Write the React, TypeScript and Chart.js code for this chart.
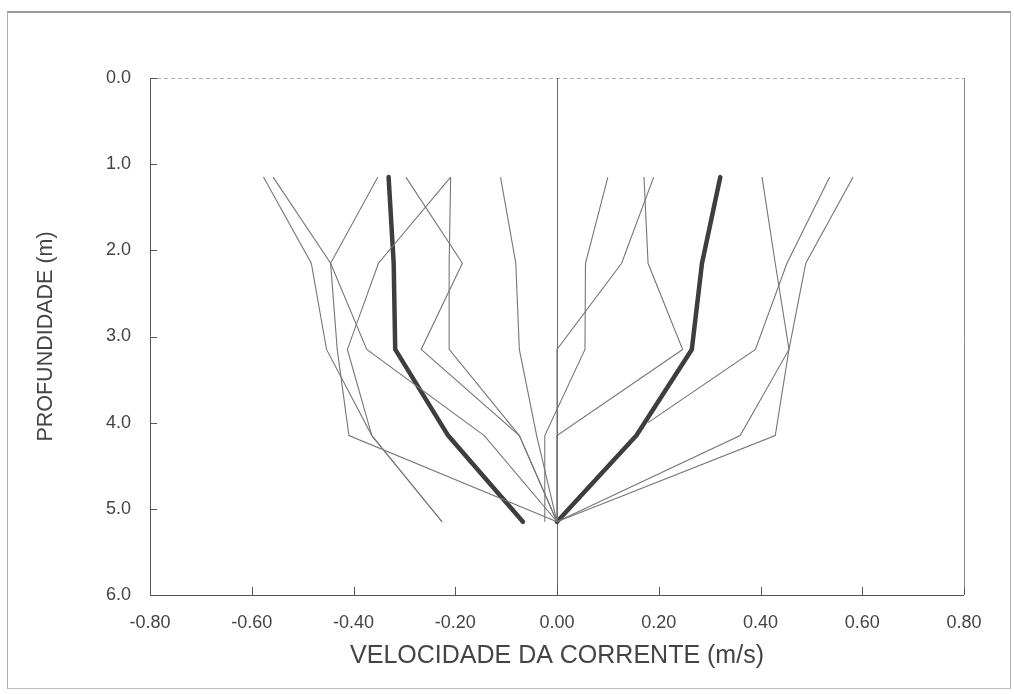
import React, { useEffect, useRef } from "react";
import { Chart, registerables } from "chart.js";

Chart.register(...registerables);

// Depth levels (m)
const DEPTHS = [1.15, 2.15, 3.15, 4.15, 5.15];
const DEPTHS_SHORT = [1.15, 2.15, 3.15, 4.0];

// Axis ticks
const X_TICKS = [-0.8, -0.6, -0.4, -0.2, 0, 0.2, 0.4, 0.6, 0.8];
const Y_TICKS = [0, 1, 2, 3, 4, 5, 6];

// Ebb profiles (negative velocities, m/s)
const EBB_1 = [-0.577, -0.483, -0.453, -0.364, -0.226];
const EBB_2 = [-0.558, -0.445, -0.374, -0.143, 0.0];
const EBB_3 = [-0.352, -0.445, -0.432, -0.409, 0.0];
const EBB_4 = [-0.209, -0.351, -0.412, -0.364, -0.226];
const EBB_5 = [-0.297, -0.186, -0.267, -0.074, 0.0];
const EBB_6 = [-0.209, -0.212, -0.212, -0.074, 0.0];
const EBB_7 = [-0.111, -0.081, -0.074, -0.04, 0.0];
const EBB_MEAN = [-0.331, -0.321, -0.318, -0.214, -0.067];

// Flood profiles (positive velocities, m/s)
const FLOOD_1 = [0.1, 0.056, 0.055, -0.024, -0.024];
const FLOOD_2 = [0.19, 0.127, 0.0, 0.0, 0.0];
const FLOOD_3 = [0.171, 0.179, 0.247, 0.0, 0.0];
const FLOOD_4 = [0.403, 0.429, 0.456, 0.36, 0.0];
const FLOOD_5 = [0.536, 0.452, 0.39, 0.179];
const FLOOD_6 = [0.582, 0.489, 0.456, 0.429, 0.0];
const FLOOD_MEAN = [0.321, 0.285, 0.265, 0.156, 0.0];

const THIN = [EBB_1, EBB_2, EBB_3, EBB_4, EBB_5, EBB_6, EBB_7, FLOOD_1, FLOOD_2, FLOOD_3, FLOOD_4, FLOOD_6];
const THIN_SHORT = [FLOOD_5];
const THICK = [EBB_MEAN, FLOOD_MEAN];

const FONT = "'Liberation Sans', Arial, Helvetica, sans-serif";

const toPoints = (vals: number[], depths: number[]) =>
  vals.map((v, i) => ({ x: v, y: depths[i] }));

const framePlugin = {
  id: "frame",
  beforeDatasetsDraw(chart: any) {
    const { ctx, chartArea, scales } = chart;
    const { left, right, top, bottom } = chartArea;
    const x = scales.x;
    const y = scales.y;
    const seg = (x1: number, y1: number, x2: number, y2: number) => {
      ctx.beginPath();
      ctx.moveTo(x1, y1);
      ctx.lineTo(x2, y2);
      ctx.stroke();
    };
    ctx.save();
    ctx.lineWidth = 1;
    // top border (faint, dotted)
    ctx.strokeStyle = "#b0b0b0";
    ctx.setLineDash([4, 3]);
    seg(left, Math.round(top) + 0.5, right, Math.round(top) + 0.5);
    ctx.setLineDash([]);
    // right border
    ctx.strokeStyle = "#8a8a8a";
    seg(Math.round(right) + 0.5, top, Math.round(right) + 0.5, bottom);
    // zero line
    const zx = Math.round(x.getPixelForValue(0)) + 0.5;
    ctx.strokeStyle = "#6a6a6a";
    seg(zx, top, zx, bottom);
    // left and bottom axes
    ctx.strokeStyle = "#555";
    seg(Math.round(left) + 0.5, top, Math.round(left) + 0.5, bottom);
    seg(left, Math.round(bottom) + 0.5, right, Math.round(bottom) + 0.5);
    // inward ticks
    X_TICKS.forEach((v) => {
      const px = Math.round(x.getPixelForValue(v)) + 0.5;
      seg(px, bottom, px, bottom - 8);
    });
    Y_TICKS.forEach((v) => {
      const py = Math.round(y.getPixelForValue(v)) + 0.5;
      seg(left, py, left + 7, py);
    });
    ctx.restore();
  },
};

export default function App() {
  const canvasRef = useRef<HTMLCanvasElement | null>(null);

  useEffect(() => {
    if (!canvasRef.current) return;
    const datasets: any[] = [];
    THIN.forEach((vals) =>
      datasets.push({
        data: toPoints(vals, DEPTHS),
        borderColor: "#767676",
        borderWidth: 1.1,
        showLine: true,
        pointRadius: 0,
        fill: false,
        tension: 0,
      })
    );
    THIN_SHORT.forEach((vals) =>
      datasets.push({
        data: toPoints(vals, DEPTHS_SHORT),
        borderColor: "#767676",
        borderWidth: 1.1,
        showLine: true,
        pointRadius: 0,
        fill: false,
        tension: 0,
      })
    );
    THICK.forEach((vals) =>
      datasets.push({
        data: toPoints(vals, DEPTHS),
        borderColor: "#3e3e3e",
        borderWidth: 4.5,
        showLine: true,
        pointRadius: 0,
        fill: false,
        tension: 0,
        borderJoinStyle: "round",
        borderCapStyle: "round",
      })
    );

    const chart = new Chart(canvasRef.current, {
      type: "scatter",
      data: { datasets },
      plugins: [framePlugin],
      options: {
        animation: false,
        responsive: true,
        maintainAspectRatio: false,
        layout: { padding: { left: 0, right: 50, top: 78, bottom: 0 } },
        plugins: {
          legend: { display: false },
          tooltip: { enabled: false },
        },
        scales: {
          x: {
            type: "linear",
            min: -0.8,
            max: 0.8,
            afterBuildTicks: (scale: any) => {
              scale.ticks = X_TICKS.map((v) => ({ value: v }));
            },
            afterFit: (scale: any) => {
              scale.height = 99;
            },
            grid: { display: false, drawTicks: false },
            border: { display: false },
            ticks: {
              padding: 17,
              color: "#444",
              font: { family: FONT, size: 18 },
              maxRotation: 0,
              callback: (v: any) => Number(v).toFixed(2),
            },
            title: {
              display: true,
              text: "VELOCIDADE DA CORRENTE (m/s)",
              color: "#444",
              font: { family: FONT, size: 25 },
              padding: { top: 0, bottom: 23 },
            },
          },
          y: {
            type: "linear",
            reverse: true,
            min: 0,
            max: 6,
            afterBuildTicks: (scale: any) => {
              scale.ticks = Y_TICKS.map((v) => ({ value: v }));
            },
            afterFit: (scale: any) => {
              scale.width = 150;
            },
            grid: { display: false, drawTicks: false },
            border: { display: false },
            ticks: {
              padding: 19,
              color: "#444",
              font: { family: FONT, size: 18 },
              callback: (v: any) => Number(v).toFixed(1),
            },
            title: {
              display: true,
              text: "PROFUNDIDADE (m)",
              color: "#444",
              font: { family: FONT, size: 21.5 },
              padding: { top: 33, bottom: 0 },
            },
          },
        },
      },
    });
    return () => chart.destroy();
  }, []);

  return (
    <div style={{ position: "fixed", left: 0, top: 0, width: 1014, height: 694, background: "#fff" }}>
      <canvas ref={canvasRef} />
      <div
        style={{
          position: "absolute",
          left: 7,
          top: 11,
          width: 1004,
          height: 678,
          borderTop: "2px solid #9a9a9a",
          borderLeft: "1px solid #b0b0b0",
          borderRight: "1px solid #b0b0b0",
          borderBottom: "1px solid #c0c0c0",
          boxSizing: "border-box",
          pointerEvents: "none",
        }}
      />
    </div>
  );
}
